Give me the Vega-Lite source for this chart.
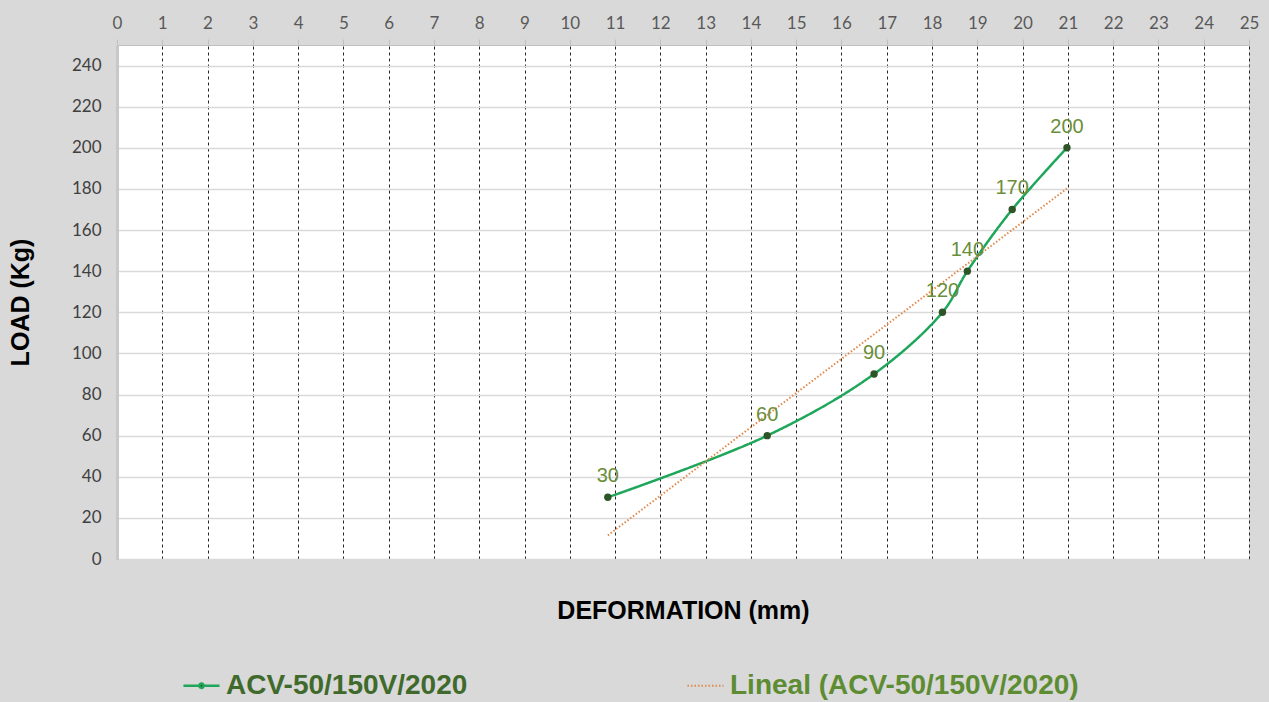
{
  "$schema": "https://vega.github.io/schema/vega-lite/v6.json",
  "width": 1132,
  "height": 514,
  "autosize": {"type": "none"},
  "padding": {"left": 117, "top": 45, "right": 20, "bottom": 143},
  "background": "#d9d9d9",
  "view": {"fill": "#ffffff", "stroke": null},
  "data": {
    "values": [
      {"series": "ACV-50/150V/2020", "deformation": 10.84, "load": 30},
      {"series": "ACV-50/150V/2020", "deformation": 14.36, "load": 60},
      {"series": "ACV-50/150V/2020", "deformation": 16.72, "load": 90},
      {"series": "ACV-50/150V/2020", "deformation": 18.23, "load": 120},
      {"series": "ACV-50/150V/2020", "deformation": 18.78, "load": 140},
      {"series": "ACV-50/150V/2020", "deformation": 19.77, "load": 170},
      {"series": "ACV-50/150V/2020", "deformation": 20.98, "load": 200},
      {"series": "Lineal (ACV-50/150V/2020)", "deformation": 10.84, "load": 11.5},
      {"series": "Lineal (ACV-50/150V/2020)", "deformation": 20.98, "load": 180.2}
    ]
  },
  "resolve": {"axis": {"x": "independent"}},
  "layer": [
    {
      "mark": {"type": "line", "interpolate": "catmull-rom"},
      "encoding": {
        "x": {
          "field": "deformation", "type": "quantitative",
          "scale": {"domain": [0, 25], "nice": false, "zero": false},
          "axis": {
            "orient": "top", "title": null, "format": "d",
            "values": [0,0.5,1,1.5,2,2.5,3,3.5,4,4.5,5,5.5,6,6.5,7,7.5,8,8.5,9,9.5,10,10.5,11,11.5,12,12.5,13,13.5,14,14.5,15,15.5,16,16.5,17,17.5,18,18.5,19,19.5,20,20.5,21,21.5,22,22.5,23,23.5,24,24.5,25],
            "labelExpr": "datum.value % 1 === 0 ? datum.label : ''",
            "labelOverlap": false, "labelFlush": false,
            "labelFont": "Lato", "labelFontSize": 17, "labelColor": "#595959", "labelPadding": 7,
            "tickColor": "#bfbfbf", "tickSize": {"condition": {"test": "datum.value % 1 !== 0", "value": 3}, "value": 6},
            "domainColor": "#bfbfbf", "domainWidth": 1,
            "grid": true, "gridColor": "#262626", "gridDash": [3, 3], "gridWidth": 1,
            "gridOpacity": {"condition": {"test": "datum.value % 1 !== 0", "value": 0}, "value": 1}
          }
        },
        "y": {
          "field": "load", "type": "quantitative",
          "scale": {"domain": [0, 250], "nice": false},
          "axis": {
            "title": "LOAD (Kg)", "titleFont": "Liberation Sans", "titleFontSize": 25, "titleFontWeight": "bold", "titleColor": "#000000", "titlePadding": 38,
            "values": [0,20,40,60,80,100,120,140,160,180,200,220,240],
            "labelFont": "Lato", "labelFontSize": 17, "labelColor": "#404040", "labelPadding": 16,
            "ticks": false, "domainColor": "#c8c8c8", "domainWidth": 3,
            "grid": true, "gridColor": "#d9d9d9", "gridWidth": 1.5
          }
        },
        "color": {
          "field": "series", "type": "nominal",
          "scale": {"domain": ["ACV-50/150V/2020", "Lineal (ACV-50/150V/2020)"], "range": ["#1ea65a", "#e0894c"]},
          "legend": {
            "title": null, "orient": "none", "legendX": 65, "legendY": 621, "direction": "horizontal", "columns": 2,
            "columnPadding": 215, "padding": 0,
            "symbolType": "stroke", "symbolSize": 1300, "symbolStrokeWidth": 2.5,
            "labelFont": "Liberation Sans", "labelFontSize": 28, "labelFontWeight": "bold", "labelOffset": 5, "labelLimit": 600,
            "encode": {
              "labels": {"update": {"fill": {"signal": "datum.value === 'ACV-50/150V/2020' ? '#3f6a2c' : '#5d8c33'"}}},
              "symbols": {"update": {
                "shape": {"signal": "datum.value === 'ACV-50/150V/2020' ? 'M-1,0L-0.12,0A0.12,0.12 0 1,1 0.12,0A0.12,0.12 0 1,1 -0.12,0M0.12,0L1,0' : 'stroke'"},
                "fill": {"signal": "datum.value === 'ACV-50/150V/2020' ? '#2e5527' : 'transparent'"}
              }}
            }
          }
        },
        "strokeDash": {
          "field": "series", "type": "nominal",
          "scale": {"domain": ["ACV-50/150V/2020", "Lineal (ACV-50/150V/2020)"], "range": [[1, 0], [1.5, 2]]}
        },
        "strokeWidth": {
          "field": "series", "type": "nominal",
          "scale": {"domain": ["ACV-50/150V/2020", "Lineal (ACV-50/150V/2020)"], "range": [2.5, 2]}
        }
      }
    },
    {
      "transform": [{"filter": "datum.series === 'ACV-50/150V/2020'"}],
      "mark": {"type": "point", "filled": true, "size": 55, "color": "#2e5527", "opacity": 1},
      "encoding": {
        "x": {"field": "deformation", "type": "quantitative", "axis": null},
        "y": {"field": "load", "type": "quantitative"}
      }
    },
    {
      "transform": [{"filter": "datum.series === 'ACV-50/150V/2020'"}],
      "mark": {"type": "text", "dy": -21, "fontSize": 20, "font": "Liberation Sans", "color": "#6a8e3a"},
      "encoding": {
        "x": {"field": "deformation", "type": "quantitative", "axis": null},
        "y": {"field": "load", "type": "quantitative"},
        "text": {"field": "load", "type": "quantitative"}
      }
    },
    {
      "mark": {"type": "point", "opacity": 0},
      "encoding": {
        "x": {
          "field": "deformation", "type": "quantitative",
          "axis": {
            "orient": "bottom", "title": "DEFORMATION (mm)", "titleFont": "Liberation Sans", "titleFontSize": 25, "titleFontWeight": "bold", "titleColor": "#000000",
            "titlePadding": 39, "labels": false, "ticks": false, "domain": false, "grid": false
          }
        },
        "y": {"field": "load", "type": "quantitative"}
      }
    }
  ]
}
